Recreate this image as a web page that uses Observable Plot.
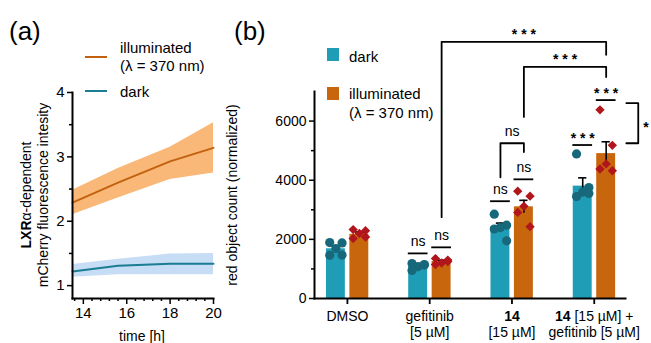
<!DOCTYPE html>
<html><head><meta charset="utf-8">
<script src="https://cdn.jsdelivr.net/npm/d3@7"></script>
<script src="https://cdn.jsdelivr.net/npm/@observablehq/plot@0.6"></script>
<style>
body{margin:0;background:#fff;font-family:"Liberation Sans",Arial,sans-serif;}
#wrap{position:relative;width:651px;height:343px;overflow:hidden;background:#fff;}
#wrap svg{position:absolute;top:0;}
</style></head><body><div id="wrap"></div>
<script>
// ---------- Panel (a) data ----------
const timeH = [13.5, 15.6, 18, 20];
const illumMean = [2.29, 2.60, 2.93, 3.14];
const illumLo = [2.10, 2.36, 2.65, 2.75];
const illumHi = [2.48, 2.82, 3.15, 3.53];
const darkMean = [1.22, 1.31, 1.34, 1.34];
const darkLo = [1.13, 1.17, 1.17, 1.17];
const darkHi = [1.33, 1.41, 1.49, 1.50];
const timeTicks = [14, 16, 18, 20];
const timeMinorTicks = [13.6, 14.4, 14.8, 15.2, 15.6, 16.4, 16.8, 17.2, 17.6, 18.4, 18.8, 19.2, 19.6];
const intensityTicks = [1, 2, 3, 4];
const intensityMinorTicks = [1.5, 2.5, 3.5];

// ---------- Panel (b) data ----------
const groups = ["DMSO", "gefitinib\n[5 µM]", "14\n[15 µM]", "14 [15 µM] +\ngefitinib [5 µM]"];
const darkMeans = [1680, 1080, 2430, 3800];
const illumMeans = [2170, 1250, 3100, 4900];
const darkSEM = [90, 55, 120, 280];
const illumSEM = [80, 45, 220, 400];
const darkPoints = [
  [1890, 1880, 1690, 1460, 1470],
  [1180, 1130, 1080, 950, 1150],
  [2850, 2480, 2400, 2350, 1950],
  [4890, 3750, 3600, 3450, 3550]
];
const illumPoints = [
  [2330, 2290, 2200, 2030, 2080],
  [1350, 1250, 1200, 1150, 1300],
  [3630, 3460, 3120, 2910, 2430],
  [6380, 5180, 4550, 4380, 4320]
];
const countTicks = [0, 2000, 4000, 6000];
const countMinorTicks = [1000, 3000, 5000];
// significance marks over single bars
const barSig = [
  {g: 1, s: "dark", v: 1525, label: "ns"},
  {g: 1, s: "illum", v: 1730, label: "ns"},
  {g: 2, s: "dark", v: 3290, label: "ns"},
  {g: 2, s: "illum", v: 4030, label: "ns"},
  {g: 3, s: "dark", v: 5190, label: "* * *"},
  {g: 3, s: "illum", v: 6710, label: "* * *"}
];
// brackets between bars
const brackets = [
  {g1: 2, s1: "dark", v1: 4100, g2: 2, s2: "illum", v2: 4950, top: 5250, label: "ns"},
  {g1: 2, s1: "illum", v1: 6140, g2: 3, s2: "illum", v2: 7490, top: 7830, label: "* * *"},
  {g1: 1, s1: "illum", v1: 2750, g2: 3, s2: "illum", v2: 8240, top: 8680, label: "* * *"}
];
const sideBracket = {g: 3, top: 6610, bottom: 5250, label: "*"};

// ---------- style ----------
const FONT = "Liberation Sans, Arial, sans-serif";
const tealBar = "#1f9db6", orangeBar = "#c8660e";
const dotDark = "#17687b", diamondRed = "#b0161b";
const orangeLine = "#c2620f", orangeBand = "#f9b878";
const tealLine = "#1b7c92", tealBand = "#c6ddf5";
const isStar = d => d.label.includes("*");

const wrap = document.getElementById("wrap");

// ---------- Panel (a) ----------
const rowsIllum = timeH.map((t, i) => ({t, m: illumMean[i], lo: illumLo[i], hi: illumHi[i]}));
const rowsDark = timeH.map((t, i) => ({t, m: darkMean[i], lo: darkLo[i], hi: darkHi[i]}));
const axisA = [
  {x1: 13.5, x2: 13.5, y1: 0.8, y2: 4},
  {x1: 13.5, x2: 20, y1: 0.8, y2: 0.8}
];

const plotA = Plot.plot({
  width: 225, height: 343,
  marginLeft: 72, marginRight: 12, marginTop: 92, marginBottom: 45,
  style: {fontFamily: FONT, fontSize: "14px", background: "transparent", overflow: "visible", color: "#000"},
  x: {domain: [13.5, 20], axis: null},
  y: {domain: [0.8, 4], axis: null},
  marks: [
    Plot.areaY(rowsIllum, {x: "t", y1: "lo", y2: "hi", fill: orangeBand}),
    Plot.areaY(rowsDark, {x: "t", y1: "lo", y2: "hi", fill: tealBand}),
    Plot.line(rowsIllum, {x: "t", y: "m", stroke: orangeLine, strokeWidth: 2}),
    Plot.line(rowsDark, {x: "t", y: "m", stroke: tealLine, strokeWidth: 2}),
    Plot.axisX({ticks: timeMinorTicks, tickSize: 3, text: null, label: null, strokeWidth: 1.5}),
    Plot.axisX({ticks: timeTicks, tickSize: 6, tickPadding: 3, fontSize: 15, tickFormat: d => String(d), label: null, strokeWidth: 1.5}),
    Plot.axisY({ticks: intensityMinorTicks, tickSize: 3, text: null, label: null, strokeWidth: 1.5}),
    Plot.axisY({ticks: intensityTicks, tickSize: 5, tickPadding: 3, fontSize: 15, tickFormat: d => String(d), label: null, strokeWidth: 1.5}),
    Plot.link(axisA, {x1: "x1", x2: "x2", y1: "y1", y2: "y2", stroke: "#000", strokeWidth: 2, strokeLinecap: "square"})
  ]
});
plotA.style.left = "0px";
wrap.appendChild(plotA);

// ---------- Panel (b) ----------
const off = {dark: -0.14, illum: 0.145};
const hw = 0.115;
const cx = d => d.g + off[d.s];
const bars = groups.flatMap((_, i) => [
  {g: i, s: "dark", v: darkMeans[i], e: darkSEM[i], c: tealBar},
  {g: i, s: "illum", v: illumMeans[i], e: illumSEM[i], c: orangeBar}
]);
const jit = [-0.075, 0.075, 0, -0.075, 0.075];
const ptsDark = darkPoints.flatMap((arr, i) => arr.map((v, j) => ({g: i, s: "dark", v, j})));
const ptsIllum = illumPoints.flatMap((arr, i) => arr.map((v, j) => ({g: i, s: "illum", v, j})));
const bracketPts = brackets.flatMap((b, k) => {
  const xa = b.g1 + off[b.s1], xb = b.g2 + off[b.s2];
  return [{k, x: xa, y: b.v1}, {k, x: xa, y: b.top}, {k, x: xb, y: b.top}, {k, x: xb, y: b.v2}];
});
const sideX1 = sideBracket.g + 0.39, sideX2 = sideBracket.g + 0.535;
const sidePts = [
  {x: sideX1, y: sideBracket.top}, {x: sideX2, y: sideBracket.top},
  {x: sideX2, y: sideBracket.bottom}, {x: sideX1, y: sideBracket.bottom}
];
const axisB = [
  {x1: -0.4, x2: -0.4, y1: 0, y2: 7000},
  {x1: -0.4, x2: 3.38, y1: 0, y2: 0}
];

const plotB = Plot.plot({
  width: 431, height: 343,
  marginLeft: 94, marginRight: 26, marginTop: 91, marginBottom: 45,
  style: {fontFamily: FONT, fontSize: "14px", background: "transparent", overflow: "visible", color: "#000"},
  x: {domain: [-0.4, 3.38], axis: null},
  y: {domain: [0, 7000], axis: null},
  color: {type: "identity"},
  marks: [
    Plot.rect(bars, {x1: d => cx(d) - hw, x2: d => cx(d) + hw, y1: 0, y2: "v", fill: "c"}),
    Plot.ruleX(bars, {x: cx, y1: d => d.v - d.e, y2: d => d.v + d.e, strokeWidth: 1.6}),
    Plot.ruleY(bars, {y: d => d.v + d.e, x1: d => cx(d) - 0.05, x2: d => cx(d) + 0.05, strokeWidth: 1.6}),
    Plot.dot(ptsDark, {x: d => cx(d) + jit[d.j], y: "v", r: 4.6, fill: dotDark, stroke: "none"}),
    Plot.dot(ptsIllum, {x: d => cx(d) + jit[d.j], y: "v", r: 4.2, symbol: "diamond2", fill: diamondRed, stroke: "none"}),
    // significance over single bars
    Plot.ruleY(barSig, {y: "v", x1: d => cx(d) - 0.12, x2: d => cx(d) + 0.12, strokeWidth: 1.8}),
    Plot.text(barSig.filter(d => !isStar(d)), {x: cx, y: "v", text: "label", dy: -12, fontSize: 14}),
    Plot.text(barSig.filter(isStar), {x: cx, y: "v", text: "label", dy: -7, fontSize: 14, fontWeight: "bold"}),
    // brackets
    Plot.line(bracketPts, {x: "x", y: "y", z: "k", strokeWidth: 1.8}),
    Plot.text(brackets.filter(d => !isStar(d)), {x: d => (d.g1 + off[d.s1] + d.g2 + off[d.s2]) / 2, y: "top", text: "label", dy: -12, fontSize: 14}),
    Plot.text(brackets.filter(isStar), {x: d => (d.g1 + off[d.s1] + d.g2 + off[d.s2]) / 2, y: "top", text: "label", dy: -7, fontSize: 14, fontWeight: "bold"}),
    Plot.line(sidePts, {x: "x", y: "y", strokeWidth: 1.8}),
    Plot.text([sideBracket], {x: d => d.g + 0.63, y: d => (d.top + d.bottom) / 2, text: "label", dy: 4, fontSize: 14, fontWeight: "bold"}),
    // axes
    Plot.axisY({ticks: countMinorTicks, tickSize: 3, text: null, label: null, strokeWidth: 1.5}),
    Plot.axisY({ticks: countTicks, tickSize: 5, tickPadding: 3, fontSize: 14, tickFormat: d => String(d), label: null, strokeWidth: 1.5}),
    Plot.axisX({ticks: [0, 1, 2, 3], tickSize: 6, text: null, label: null, strokeWidth: 1.8}),
    Plot.text(groups.map((t, i) => ({i, t})), {x: "i", text: "t", frameAnchor: "bottom", dy: 11, lineAnchor: "top", fontSize: 14, lineHeight: 1.15}),
    Plot.link(axisB, {x1: "x1", x2: "x2", y1: "y1", y2: "y2", stroke: "#000", strokeWidth: 2, strokeLinecap: "square"})
  ]
});
plotB.style.left = "220px";
wrap.appendChild(plotB);

// bold compound number "14" in category labels
d3.select(plotB).selectAll("tspan, text").each(function() {
  if (this.children.length) return;
  const s = this.textContent;
  if (s === "14") d3.select(this).attr("font-weight", "bold");
  else if (s === "14 [15 µM] +") {
    const el = d3.select(this);
    el.text("");
    el.append("tspan").attr("font-weight", "bold").text("14");
    el.append("tspan").text(" [15 µM] +");
  }
});

// ---------- overlay: panel letters, legends, axis titles ----------
const ov = d3.select(wrap).append("svg")
  .attr("width", 651).attr("height", 343)
  .style("left", "0px").style("overflow", "visible")
  .attr("font-family", FONT);

ov.append("text").attr("x", 9).attr("y", 40).attr("font-size", 26).text("(a)");
ov.append("text").attr("x", 234).attr("y", 40).attr("font-size", 26).text("(b)");

// legend (a)
ov.append("line").attr("x1", 85).attr("x2", 107).attr("y1", 57).attr("y2", 57).attr("stroke", orangeLine).attr("stroke-width", 2);
ov.append("text").attr("x", 120).attr("y", 53).attr("font-size", 15).text("illuminated");
ov.append("text").attr("x", 120).attr("y", 71).attr("font-size", 15).text("(λ = 370 nm)");
ov.append("line").attr("x1", 85).attr("x2", 107).attr("y1", 91).attr("y2", 91).attr("stroke", tealLine).attr("stroke-width", 2);
ov.append("text").attr("x", 120).attr("y", 97).attr("font-size", 15).text("dark");

// legend (b)
ov.append("rect").attr("x", 327).attr("y", 48).attr("width", 12).attr("height", 13).attr("fill", tealBar);
ov.append("text").attr("x", 349).attr("y", 62).attr("font-size", 15).text("dark");
ov.append("rect").attr("x", 327).attr("y", 87).attr("width", 12).attr("height", 13).attr("fill", orangeBar);
ov.append("text").attr("x", 349).attr("y", 99).attr("font-size", 15).text("illuminated");
ov.append("text").attr("x", 349).attr("y", 118).attr("font-size", 15).text("(λ = 370 nm)");

// axis titles
const ya1 = ov.append("text").attr("transform", "translate(26,195) rotate(-90)").attr("text-anchor", "middle").attr("dy", "0.35em").attr("font-size", 14);
ya1.append("tspan").attr("font-weight", "bold").text("LXR");
ya1.append("tspan").text("α-dependent");
ov.append("text").attr("transform", "translate(43,195) rotate(-90)").attr("text-anchor", "middle").attr("dy", "0.35em").attr("font-size", 14).text("mCherry fluorescence intesity");
ov.append("text").attr("x", 142).attr("y", 336).attr("text-anchor", "middle").attr("dy", "0.35em").attr("font-size", 14).text("time [h]");
ov.append("text").attr("transform", "translate(232,195) rotate(-90)").attr("text-anchor", "middle").attr("dy", "0.35em").attr("font-size", 14).text("red object count (normalized)");
</script>
</body></html>
